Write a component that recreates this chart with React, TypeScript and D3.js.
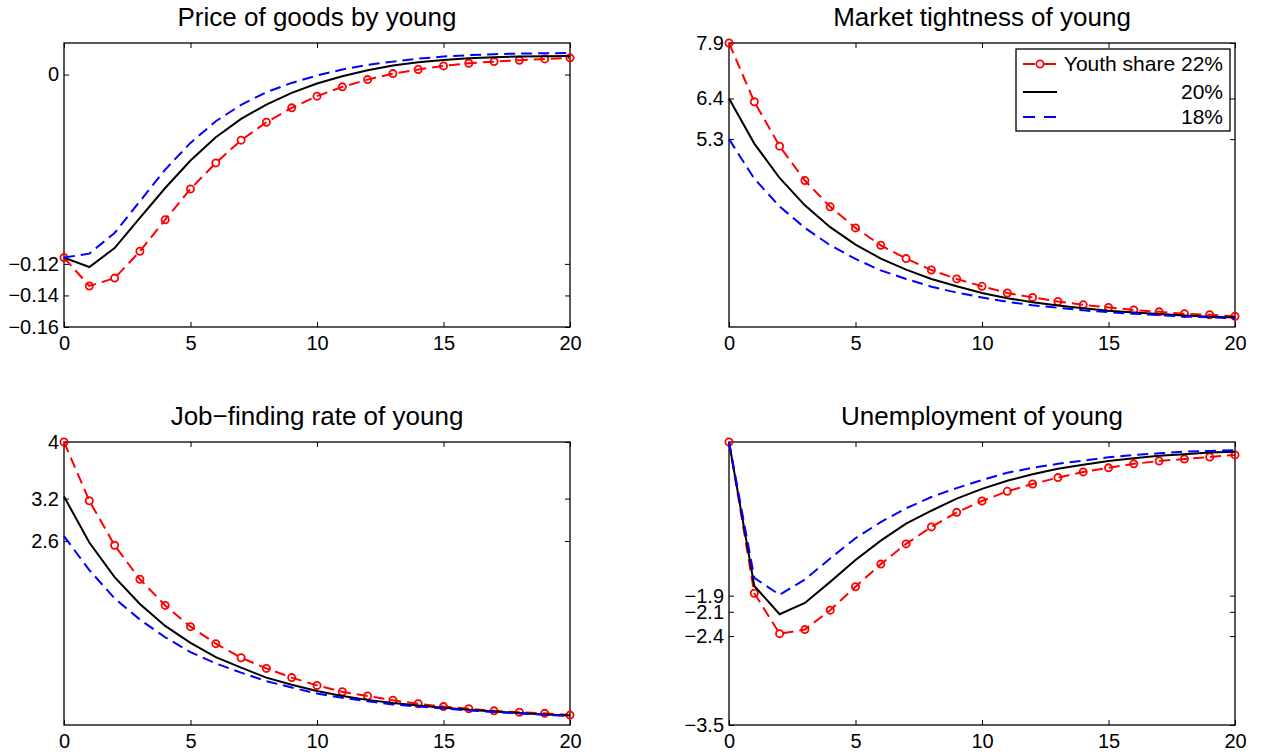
import React, { useEffect, useRef } from 'react';
import * as d3 from 'd3';

const width = 1261;
const height = 756;
const fontFamily = '"Liberation Sans", Arial, Helvetica, sans-serif';

const periods = [0, 1, 2, 3, 4, 5, 6, 7, 8, 9, 10, 11, 12, 13, 14, 15, 16, 17, 18, 19, 20];
const xTicks = [0, 5, 10, 15, 20];

// youth share 22% / 20% / 18%
const priceYouth22 = [-0.116, -0.134, -0.129, -0.112, -0.092, -0.0725, -0.056, -0.0416, -0.0302, -0.0211, -0.0137, -0.0078, -0.0032, 0.0006, 0.0032, 0.0055, 0.0072, 0.0082, 0.0091, 0.0099, 0.0106];
const priceYouth20 = [-0.116, -0.122, -0.110, -0.0909, -0.0719, -0.0545, -0.0397, -0.0281, -0.019, -0.0116, -0.0057, -0.0011, 0.0027, 0.0057, 0.0078, 0.0093, 0.0104, 0.011, 0.0114, 0.0116, 0.0118];
const priceYouth18 = [-0.116, -0.1135, -0.1004, -0.0803, -0.0602, -0.0433, -0.0296, -0.0192, -0.0112, -0.0053, -0.0006, 0.0032, 0.0061, 0.0082, 0.0101, 0.0114, 0.0123, 0.0129, 0.0133, 0.0135, 0.0137];

const tightness22 = [7.9, 6.31, 5.11, 4.18, 3.47, 2.9, 2.43, 2.07, 1.76, 1.52, 1.32, 1.14, 1.02, 0.91, 0.82, 0.75, 0.68, 0.63, 0.58, 0.55, 0.51];
const tightness20 = [6.4, 5.18, 4.25, 3.51, 2.92, 2.45, 2.07, 1.77, 1.52, 1.32, 1.14, 1.0, 0.89, 0.8, 0.73, 0.66, 0.61, 0.57, 0.53, 0.5, 0.48];
const tightness18 = [5.3, 4.23, 3.48, 2.9, 2.43, 2.06, 1.75, 1.52, 1.31, 1.15, 1.02, 0.9, 0.81, 0.74, 0.67, 0.62, 0.58, 0.54, 0.5, 0.48, 0.45];

const jobFinding22 = [4.0, 3.17, 2.54, 2.06, 1.69, 1.39, 1.15, 0.95, 0.8, 0.67, 0.56, 0.47, 0.41, 0.35, 0.3, 0.26, 0.23, 0.2, 0.18, 0.165, 0.14];
const jobFinding20 = [3.23, 2.58, 2.09, 1.71, 1.4, 1.16, 0.96, 0.81, 0.67, 0.57, 0.48, 0.41, 0.355, 0.31, 0.275, 0.245, 0.215, 0.19, 0.17, 0.15, 0.135];
const jobFinding18 = [2.67, 2.19, 1.79, 1.49, 1.24, 1.03, 0.87, 0.74, 0.62, 0.53, 0.445, 0.385, 0.335, 0.29, 0.26, 0.233, 0.205, 0.183, 0.163, 0.145, 0.128];

const unemp22 = [0, -1.87, -2.37, -2.32, -2.08, -1.79, -1.51, -1.26, -1.05, -0.87, -0.73, -0.61, -0.52, -0.44, -0.37, -0.32, -0.27, -0.235, -0.21, -0.185, -0.16];
const unemp20 = [0, -1.78, -2.13, -1.99, -1.73, -1.46, -1.22, -1.01, -0.85, -0.7, -0.58, -0.48, -0.4, -0.33, -0.28, -0.235, -0.2, -0.17, -0.15, -0.13, -0.12];
const unemp18 = [0, -1.68, -1.89, -1.7, -1.44, -1.19, -0.99, -0.82, -0.68, -0.57, -0.47, -0.38, -0.32, -0.27, -0.23, -0.19, -0.16, -0.14, -0.12, -0.11, -0.1];

const priceTicks = [-0.16, -0.14, -0.12, 0];
const tightnessTicks = [5.3, 6.4, 7.9];
const jobFindingTicks = [2.6, 3.2, 4];
const unempTicks = [-3.5, -2.4, -2.1, -1.9];

const legendLabels = ['Youth share 22%', '20%', '18%'];

type Panel = {
  title: string;
  left: number;
  top: number;
  w: number;
  h: number;
  yDomain: [number, number];
  yTicks: number[];
  series: number[][];
  legend?: boolean;
};

const panels: Panel[] = [
  { title: 'Price of goods by young', left: 64, top: 43, w: 506, h: 284, yDomain: [-0.16, 0.02], yTicks: priceTicks, series: [priceYouth22, priceYouth20, priceYouth18] },
  { title: 'Market tightness of young', left: 729, top: 43, w: 506, h: 284, yDomain: [0.22, 7.9], yTicks: tightnessTicks, series: [tightness22, tightness20, tightness18], legend: true },
  { title: 'Job\u2212finding rate of young', left: 64, top: 442, w: 506, h: 283, yDomain: [0, 4], yTicks: jobFindingTicks, series: [jobFinding22, jobFinding20, jobFinding18] },
  { title: 'Unemployment of young', left: 729, top: 442, w: 506, h: 283, yDomain: [-3.5, 0], yTicks: unempTicks, series: [unemp22, unemp20, unemp18] },
];

const styles = [
  { color: '#ff0000', dash: '11,6', marker: true },
  { color: '#000000', dash: null, marker: false },
  { color: '#0000ff', dash: '11,6', marker: false },
];

function App() {
  const ref = useRef<SVGSVGElement | null>(null);

  useEffect(() => {
    const svg = d3.select(ref.current);
    svg.selectAll('*').remove();
    svg.append('rect').attr('width', width).attr('height', height).attr('fill', 'white');

    const tickLen = 5;

    panels.forEach((p) => {
      const g = svg.append('g').attr('transform', `translate(${p.left},${p.top})`);
      const x = d3.scaleLinear().domain([0, 20]).range([0, p.w]);
      const y = d3.scaleLinear().domain(p.yDomain).range([p.h, 0]);

      const styleAxis = (sel: any) => {
        sel.select('.domain').remove();
        sel.selectAll('line').attr('stroke', '#000').attr('stroke-width', 1);
        sel.selectAll('text')
          .attr('fill', '#000')
          .style('font-family', fontFamily)
          .style('font-size', '20px');
      };

      // axes with inward ticks, box style
      g.append('g')
        .call(d3.axisLeft(y).tickValues(p.yTicks).tickSize(-tickLen).tickPadding(5).tickFormat(d3.format('')) as any)
        .call(styleAxis);
      g.append('g')
        .attr('transform', `translate(${p.w},0)`)
        .call(d3.axisRight(y).tickValues(p.yTicks).tickSize(-tickLen).tickFormat(() => '') as any)
        .call(styleAxis);
      g.append('g')
        .attr('transform', `translate(0,${p.h})`)
        .call(d3.axisBottom(x).tickValues(xTicks).tickSize(-tickLen).tickPadding(9).tickFormat(d3.format('')) as any)
        .call(styleAxis);
      g.append('g')
        .call(d3.axisTop(x).tickValues(xTicks).tickSize(-tickLen).tickFormat(() => '') as any)
        .call(styleAxis);

      g.append('rect')
        .attr('width', p.w)
        .attr('height', p.h)
        .attr('fill', 'none')
        .attr('stroke', '#000')
        .attr('stroke-width', 1.3);

      g.append('text')
        .attr('x', p.w / 2)
        .attr('y', -17)
        .attr('text-anchor', 'middle')
        .style('font-family', fontFamily)
        .style('font-size', '26px')
        .text(p.title);

      const line = d3.line<number>()
        .x((_, i) => x(periods[i]))
        .y((d) => y(d));

      p.series.forEach((s, k) => {
        const st = styles[k];
        g.append('path')
          .datum(s)
          .attr('fill', 'none')
          .attr('stroke', st.color)
          .attr('stroke-width', 2)
          .attr('stroke-dasharray', st.dash)
          .attr('d', line);
        if (st.marker) {
          g.selectAll(null)
            .data(s)
            .enter()
            .append('circle')
            .attr('cx', (_, i) => x(periods[i]))
            .attr('cy', (d) => y(d))
            .attr('r', 3.6)
            .attr('fill', 'none')
            .attr('stroke', st.color)
            .attr('stroke-width', 1.8);
        }
      });

      if (p.legend) {
        const lg = g.append('g').attr('transform', `translate(${1016 - p.left},${49 - p.top})`);
        lg.append('rect')
          .attr('width', 214)
          .attr('height', 82)
          .attr('fill', 'white')
          .attr('stroke', '#000')
          .attr('stroke-width', 1.3);
        const rowY = [15, 43, 68];
        legendLabels.forEach((label, k) => {
          const st = styles[k];
          lg.append('line')
            .attr('x1', 7).attr('x2', 41)
            .attr('y1', rowY[k]).attr('y2', rowY[k])
            .attr('stroke', st.color)
            .attr('stroke-width', 2)
            .attr('stroke-dasharray', st.dash ? '12,9' : null);
          if (st.marker) {
            lg.append('circle')
              .attr('cx', 24).attr('cy', rowY[k]).attr('r', 3.6)
              .attr('fill', 'white')
              .attr('stroke', st.color)
              .attr('stroke-width', 1.8);
          }
          lg.append('text')
            .attr('x', 207)
            .attr('y', rowY[k])
            .attr('dy', '0.35em')
            .attr('text-anchor', 'end')
            .style('font-family', fontFamily)
            .style('font-size', '21px')
            .text(label);
        });
      }
    });
  }, []);

  return (
    <svg ref={ref} width={width} height={height}
      style={{ position: 'absolute', left: 0, top: 0, display: 'block' }} />
  );
}

export default App;
